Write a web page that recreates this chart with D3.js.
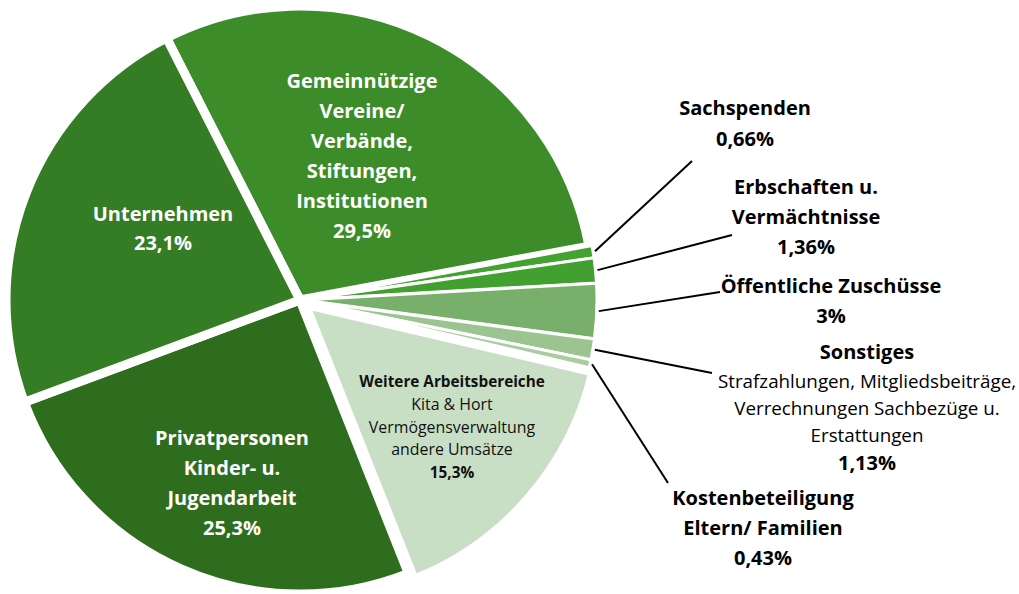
<!DOCTYPE html>
<html>
<head>
<meta charset="utf-8">
<script src="https://cdn.jsdelivr.net/npm/d3@7"></script>
<style>
  body { margin: 0; background: #fff; }
  text { font-family: "Open Sans", Lato, sans-serif; }
</style>
</head>
<body>
<div id="chart"></div>
<script>
// Einnahmen nach Herkunft - Anteile in Prozent
const categories = ["Gemeinnützige Vereine", "Sachspenden", "Erbschaften", "Öffentliche Zuschüsse",
  "Sonstiges", "Kostenbeteiligung", "Weitere Arbeitsbereiche", "Privatpersonen", "Unternehmen"];
const shares = [29.5, 0.66, 1.36, 3, 1.13, 0.43, 15.3, 25.3, 23.1];
const shareLabels = ["29,5%", "0,66%", "1,36%", "3%", "1,13%", "0,43%", "15,3%", "25,3%", "23,1%"];
const titleLines = [
  ["Gemeinnützige", "Vereine/", "Verbände,", "Stiftungen,", "Institutionen"],
  ["Sachspenden"],
  ["Erbschaften u.", "Vermächtnisse"],
  ["Öffentliche Zuschüsse"],
  ["Sonstiges"],
  ["Kostenbeteiligung", "Eltern/ Familien"],
  ["Weitere Arbeitsbereiche"],
  ["Privatpersonen", "Kinder- u.", "Jugendarbeit"],
  ["Unternehmen"]
];
const noteLines = [[], [], [], [],
  ["Strafzahlungen, Mitgliedsbeiträge,", "Verrechnungen Sachbezüge u.", "Erstattungen"],
  [], ["Kita & Hort", "Vermögensverwaltung", "andere Umsätze"], [], []];

// styles / layout
const colors = ["#3c8c29", "#43a232", "#41a030", "#78b06b", "#9bc491", "#a9cda0", "#c9dfc5", "#2e6d1e", "#357d25"];
const explode = [0, 3, 3, 3, 3, 3, 8, 0, 0];
const strokeW = [9, 3, 3, 3, 3, 3, 8, 9, 9];
const labelLayout = [
  {x: 362, y: 80, step: 30, size: 20, color: "#fff"},
  {x: 745, y: 107, step: 31, size: 20, color: "#000", line: [692, 161]},
  {x: 806, y: 186, step: 30, size: 20, color: "#000", line: [732, 235]},
  {x: 831, y: 285, step: 30, size: 20, color: "#000", line: [720, 292]},
  {x: 867, y: 351, step: 30, noteStep: 27, size: 20, noteSize: 18.8, color: "#000", line: [712, 373]},
  {x: 763, y: 497, step: 30, size: 20, color: "#000", line: [668, 483]},
  {x: 452, y: 381, step: 23, noteStep: 22.5, size: 15.3, noteSize: 15.9, pctSize: 15.3, color: "#111"},
  {x: 232, y: 437, step: 30, size: 20, color: "#fff"},
  {x: 163, y: 213, step: 29, size: 20, color: "#fff"}
];

const width = 1019, height = 594, cx = 300, cy = 300, radius = 294;
const startAngle = -27 * Math.PI / 180;

const svg = d3.select("#chart").append("svg")
  .attr("width", width)
  .attr("height", height);

const pie = d3.pie()
  .sort(null)
  .startAngle(startAngle)
  .endAngle(startAngle + 2 * Math.PI)
  .value(d => d);

const arcs = pie(shares);
const arc = d3.arc().innerRadius(0).outerRadius(radius);

const g = svg.append("g").attr("transform", "translate(" + cx + "," + cy + ")");

function offset(d, i) {
  const a = (d.startAngle + d.endAngle) / 2;
  return [explode[i] * Math.sin(a), -explode[i] * Math.cos(a)];
}

// big slices first, small exploded ones on top
const order = [0, 6, 7, 8, 1, 2, 3, 4, 5];
g.selectAll("path")
  .data(order.map(i => ({d: arcs[i], i: i})))
  .enter()
  .append("path")
  .attr("d", o => arc(o.d))
  .attr("transform", o => "translate(" + offset(o.d, o.i) + ")")
  .style("fill", o => colors[o.i])
  .style("stroke", "#fff")
  .style("stroke-width", o => strokeW[o.i])
  .style("stroke-linejoin", "miter");

// leader lines
arcs.forEach((d, i) => {
  const L = labelLayout[i];
  if (!L.line) return;
  const a = (d.startAngle + d.endAngle) / 2;
  const r0 = radius + explode[i] + 2;
  svg.append("line")
    .attr("x1", cx + r0 * Math.sin(a))
    .attr("y1", cy - r0 * Math.cos(a))
    .attr("x2", L.line[0])
    .attr("y2", L.line[1])
    .style("stroke", "#000")
    .style("stroke-width", 2);
});

// labels
arcs.forEach((d, i) => {
  const L = labelLayout[i];
  const t = svg.append("text")
    .attr("text-anchor", "middle")
    .attr("dominant-baseline", "central")
    .style("fill", L.color);
  let y = L.y;
  const lines = [];
  titleLines[i].forEach(s => lines.push({s: s, bold: true, size: L.size}));
  noteLines[i].forEach(s => lines.push({s: s, bold: false, size: L.noteSize || L.size}));
  lines.push({s: shareLabels[i], bold: true, size: L.pctSize || L.size});
  lines.forEach((ln, k) => {
    if (k > 0) y += (lines[k - 1].bold ? L.step : (L.noteStep || L.step));
    t.append("tspan")
      .attr("x", L.x)
      .attr("y", y)
      .style("font-size", ln.size + "px")
      .style("font-weight", ln.bold ? 700 : 400)
      .text(ln.s);
  });
});
</script>
</body>
</html>
